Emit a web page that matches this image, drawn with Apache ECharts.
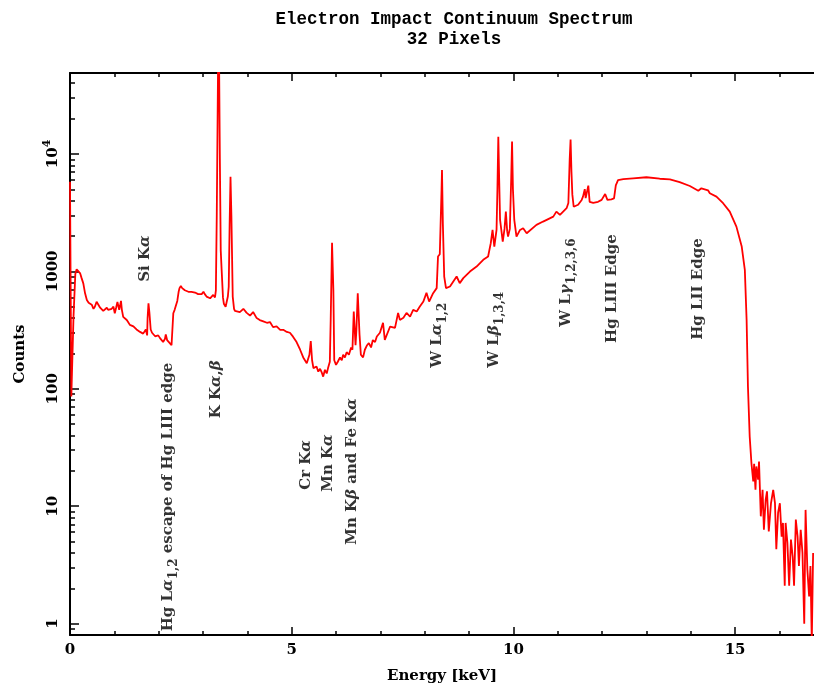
<!DOCTYPE html>
<html>
<head>
<meta charset="utf-8">
<script src="https://cdn.jsdelivr.net/npm/echarts@6/dist/echarts.min.js"></script>
<style>
html,body{margin:0;padding:0;background:#fff;}
#chart{width:814px;height:688px;}
</style>
</head>
<body>
<div id="chart"></div>
<script>
// ---- Data ----
const energy = [
0.00,0.03,0.08,0.12,0.15,0.18,0.23,0.26,0.30,0.34,0.38,0.42,0.45,0.49,0.53,0.56,0.60,0.64,0.68,0.71,
0.75,0.79,0.83,0.86,0.90,0.94,0.98,1.01,1.04,1.07,1.11,1.15,1.17,1.20,1.24,1.28,1.31,1.35,1.39,1.43,
1.47,1.50,1.54,1.58,1.62,1.65,1.69,1.71,1.74,1.75,1.77,1.79,1.82,1.85,1.88,1.92,1.95,1.99,2.03,2.07,
2.10,2.14,2.16,2.19,2.22,2.25,2.29,2.31,2.33,2.36,2.39,2.42,2.45,2.47,2.50,2.53,2.55,2.59,2.63,2.67,
2.71,2.74,2.78,2.82,2.86,2.89,2.93,2.97,3.01,3.04,3.08,3.12,3.16,3.20,3.23,3.27,3.29,3.31,3.34,3.36,
3.38,3.40,3.42,3.45,3.47,3.51,3.56,3.58,3.60,3.62,3.64,3.67,3.70,3.72,3.76,3.83,3.91,3.98,4.06,4.13,
4.21,4.28,4.36,4.44,4.51,4.58,4.66,4.74,4.81,4.89,4.96,5.03,5.11,5.19,5.26,5.34,5.38,5.40,5.43,5.46,
5.49,5.52,5.56,5.60,5.64,5.68,5.71,5.75,5.79,5.82,5.86,5.88,5.91,5.94,5.96,6.00,6.04,6.09,6.13,6.16,
6.20,6.24,6.29,6.34,6.37,6.40,6.44,6.46,6.49,6.53,6.56,6.61,6.65,6.70,6.74,6.79,6.83,6.88,6.92,6.99,
7.06,7.10,7.22,7.33,7.40,7.44,7.52,7.59,7.67,7.74,7.82,7.89,7.97,8.04,8.10,8.19,8.27,8.30,8.34,8.36,
8.38,8.39,8.41,8.44,8.48,8.57,8.72,8.79,8.87,9.02,9.17,9.32,9.43,9.49,9.53,9.57,9.62,9.64,9.66,9.68,
9.70,9.76,9.80,9.83,9.86,9.88,9.92,9.95,9.97,9.99,10.02,10.07,10.15,10.22,10.30,10.52,10.67,10.90,10.97,11.05,
11.20,11.24,11.27,11.29,11.31,11.33,11.36,11.46,11.54,11.57,11.61,11.63,11.65,11.69,11.72,11.80,11.91,11.99,12.07,12.12,
12.21,12.27,12.31,12.36,12.48,12.70,13.00,13.30,13.53,13.75,13.98,14.17,14.24,14.28,14.39,14.43,14.58,14.73,14.88,15.03,
15.15,15.22,15.26,15.29,15.33,15.37,15.41,15.43,15.46,15.48,15.52,15.54,15.58,15.62,15.65,15.69,15.72,15.76,15.81,15.86,
15.90,15.93,15.97,16.01,16.05,16.08,16.12,16.14,16.18,16.22,16.26,16.30,16.33,16.37,16.41,16.44,16.48,16.52,16.56,16.59,
16.63,16.67,16.70,16.73,16.76
];
const counts = [
5800,86,420,950,1040,1050,960,880,790,650,570,540,550,520,480,500,550,520,490,480,
460,470,490,470,460,480,500,440,490,550,470,560,470,410,420,385,370,350,355,340,
330,320,310,305,300,295,305,320,285,400,535,450,320,300,290,280,275,285,270,260,
250,265,290,260,255,245,235,240,440,470,480,560,670,720,750,720,700,690,700,670,
650,670,690,660,650,640,660,640,670,640,610,620,590,610,630,600,690,3000,60000,80000,
9000,1500,1030,600,530,500,610,740,2500,6400,3000,610,480,460,470,450,480,445,420,450,
400,385,375,365,370,335,340,318,318,305,300,278,250,215,185,165,160,195,255,175,
150,145,155,140,148,137,127,145,135,150,170,390,1750,690,175,160,170,185,175,195,
185,205,195,225,215,455,235,320,650,290,195,185,215,235,245,225,260,250,279,300,
365,261,339,330,443,386,402,443,412,470,455,501,553,656,553,652,720,1337,1400,1429,
5000,7310,2500,900,720,743,904,794,876,996,1099,1253,1337,1738,2254,1626,2254,5000,14030,6000,
2742,1795,2300,3228,2200,1977,2300,6000,12730,5000,2742,1977,2254,2332,2113,2489,2655,2926,3228,3027,
3451,3815,9000,13260,7000,4500,3550,3690,4060,4330,5020,4200,4180,5370,3910,3830,3910,4060,4560,4060,
4110,4180,5410,5980,6100,6200,6330,6150,6070,5750,5330,4860,5100,5260,4900,4630,4330,3805,3230,2405,
1626,1030,387,105,39,23,16.3,23,13.8,21.8,16.8,24,8.2,13.8,6.3,11.4,13.4,6.1,10.6,13.8,
10.6,4.3,8.8,10.6,5.5,7.2,2.1,7.2,4.9,2.1,5.2,3.7,2.1,7.7,5.5,3.1,6.3,4.0,1.0,9.3,
2.9,1.7,3.1,0.7,4.0
];

// tick values / labels
const xMajorTicks = [0, 5, 10, 15];
const xMinorTicks = [1, 2, 3, 4, 6, 7, 8, 9, 11, 12, 13, 14, 16];
const yMajorTicks = [1, 10, 100, 1000, 10000];
const yTickLabels = ['1', '10', '100', '1000', '10^4'];
const yMinorTicks = [0.9, 2, 3, 4, 5, 6, 7, 8, 9, 20, 30, 40, 50, 60, 70, 80, 90,
  200, 300, 400, 500, 600, 700, 800, 900, 2000, 3000, 4000, 5000, 6000, 7000, 8000, 9000,
  20000, 30000, 40000];

// line annotations (energy, counts at the start of the vertical text, text)
const noteEnergy = [1.69, 2.21, 3.29, 5.32, 5.82, 6.36, 8.27, 9.56, 11.18, 12.22, 14.16];
const noteCounts = [815, 0.86, 56, 13.8, 13.3, 4.7, 151, 151, 337, 246, 261];
const noteText = [
  '{t|Si K}{g|α}',
  '{t|Hg L}{g|α}{s|1,2}{t| escape of Hg LIII edge}',
  '{t|K K}{g|α}{t|,}{g|β}',
  '{t|Cr K}{g|α}',
  '{t|Mn K}{g|α}',
  '{t|Mn K}{g|β}{t| and Fe K}{g|α}',
  '{t|W L}{g|α}{s|1,2}',
  '{t|W L}{g|β}{s|1,3,4}',
  '{t|W L}{g|γ}{s|1,2,3,6}',
  '{t|Hg LIII Edge}',
  '{t|Hg LII Edge}'
];

const titleLines = ['Electron Impact Continuum Spectrum', '32 Pixels'];
const xName = 'Energy [keV]';
const yName = 'Counts';

// ---- Chart ----
const SERIF = '"DejaVu Serif", serif';
const chart = echarts.init(document.getElementById('chart'), null, {renderer: 'canvas'});

const spectrum = energy.map((e, i) => [e, counts[i]]);
const notes = noteEnergy.map((e, i) => [e, noteCounts[i], noteText[i]]);

const XMIN = 0, XMAX = 16.78, YMIN = 0.8, YMAX = 48900;

function xAxisBase(pos, ticks, len, showLabel, showLine) {
  return {
    type: 'value', position: pos, min: XMIN, max: XMAX, gridIndex: 0,
    axisLine: {show: showLine, onZero: false, lineStyle: {color: '#000', width: 2}},
    axisTick: {show: true, inside: true, length: len, customValues: ticks, lineStyle: {color: '#000', width: 1.5}},
    axisLabel: showLabel ? {show: true, customValues: ticks, margin: 8, color: '#000',
      fontFamily: SERIF, fontWeight: 'bold', fontSize: 15} : {show: false},
    splitLine: {show: false}, minorTick: {show: false}
  };
}
function yAxisBase(ticks, len, showLabel, showLine) {
  return {
    type: 'log', logBase: 10, position: 'left', min: YMIN, max: YMAX, gridIndex: 0,
    axisLine: {show: showLine, onZero: false, lineStyle: {color: '#000', width: 2}},
    axisTick: {show: true, inside: true, length: len, customValues: ticks, lineStyle: {color: '#000', width: 1.5}},
    axisLabel: showLabel ? {
      show: true, customValues: ticks, rotate: 90, margin: 6, color: '#000',
      formatter: function (v) {
        let idx = -1;
        for (let i = 0; i < yMajorTicks.length; i++) {
          if (Math.abs(Math.log10(v) - Math.log10(yMajorTicks[i])) < 1e-6) idx = i;
        }
        const s = idx >= 0 ? yTickLabels[idx] : String(v);
        if (s.indexOf('^') >= 0) {
          const p = s.split('^');
          return '{b|' + p[0] + '}{sup|' + p[1] + '}';
        }
        return '{b|' + s + '}';
      },
      rich: {
        b: {fontFamily: SERIF, fontWeight: 'bold', fontSize: 15, lineHeight: 22, color: '#000'},
        sup: {fontFamily: SERIF, fontWeight: 'bold', fontSize: 11, lineHeight: 11, verticalAlign: 'top', color: '#000'}
      }
    } : {show: false},
    splitLine: {show: false}, minorTick: {show: false}
  };
}

const xAxes = [
  xAxisBase('bottom', xMajorTicks, 8, true, true),
  xAxisBase('top', xMajorTicks, 8, false, true),
  xAxisBase('bottom', xMinorTicks, 4, false, false),
  xAxisBase('top', xMinorTicks, 4, false, false)
];
xAxes[0].name = xName;
xAxes[0].nameLocation = 'middle';
xAxes[0].nameGap = 34;
xAxes[0].nameTextStyle = {fontFamily: SERIF, fontWeight: 'bold', fontSize: 15, color: '#000'};

const yAxes = [
  yAxisBase(yMajorTicks, 9, true, true),
  yAxisBase(yMinorTicks, 5, false, false)
];
yAxes[0].name = yName;
yAxes[0].nameLocation = 'middle';
yAxes[0].nameRotate = 90;
yAxes[0].nameGap = 42;
yAxes[0].nameTextStyle = {fontFamily: SERIF, fontWeight: 'bold', fontSize: 15, color: '#000'};

const option = {
  animation: false,
  backgroundColor: '#fff',
  title: {
    text: titleLines.join('\n'),
    left: 449, top: 5, textAlign: 'center',
    textStyle: {fontFamily: '"Liberation Mono", monospace', fontWeight: 'bold', fontSize: 17.5, lineHeight: 20, color: '#000'}
  },
  grid: {left: 70, right: 0, top: 73, bottom: 53, containLabel: false, outerBoundsMode: 'none'},
  xAxis: xAxes,
  yAxis: yAxes,
  series: [
    {
      type: 'line', xAxisIndex: 0, yAxisIndex: 0, data: spectrum,
      showSymbol: false, symbol: 'none', clip: true,
      lineStyle: {color: '#ff0000', width: 1.8}, itemStyle: {color: '#ff0000'},
      z: 3
    },
    {
      type: 'scatter', xAxisIndex: 0, yAxisIndex: 0, data: notes,
      symbolSize: 0, clip: false, silent: true, z: 4,
      label: {
        show: true, position: [0, 0], rotate: 90, align: 'left', verticalAlign: 'middle',
        formatter: function (p) { return p.data[2]; },
        rich: {
          t: {fontFamily: SERIF, fontWeight: 'bold', fontSize: 15, lineHeight: 24, color: '#000'},
          g: {fontFamily: SERIF, fontWeight: 'bold', fontStyle: 'italic', fontSize: 15, lineHeight: 24, color: '#000'},
          s: {fontFamily: SERIF, fontWeight: 'bold', fontSize: 12, lineHeight: 11, verticalAlign: 'bottom', color: '#000'}
        }
      }
    }
  ]
};
chart.setOption(option);
</script>
</body>
</html>
